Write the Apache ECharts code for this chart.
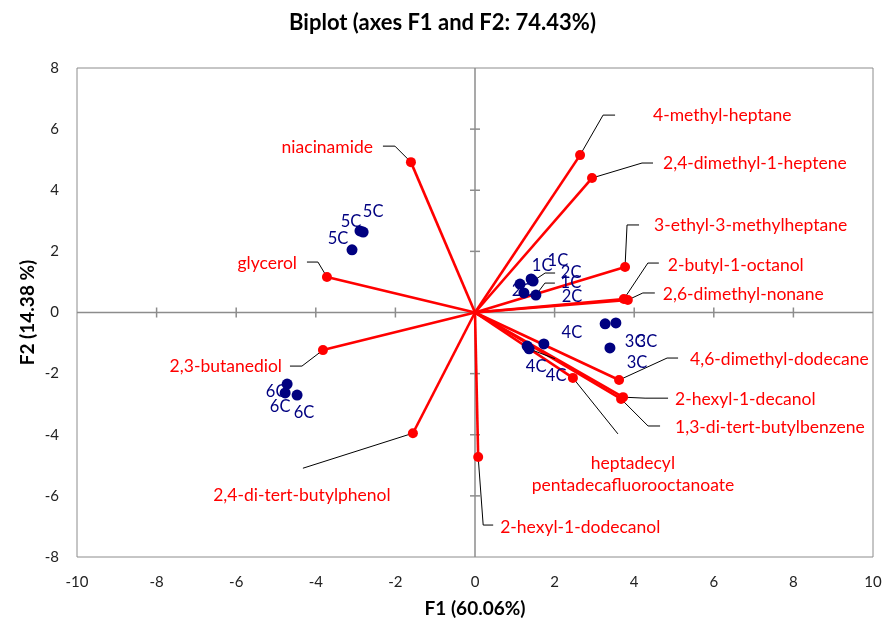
<!DOCTYPE html>
<html><head><meta charset="utf-8">
<script src="https://cdn.jsdelivr.net/npm/echarts@6/dist/echarts.min.js"></script>
<style>html,body{margin:0;padding:0;background:#fff}#c{width:885px;height:628px}</style>
</head><body><div id="c"></div>
<script>
// ---------- data ----------
const xTicks = [-10, -8, -6, -4, -2, 0, 2, 4, 6, 8, 10];
const yTicks = [-8, -6, -4, -2, 0, 2, 4, 6, 8];

const varNames = ['4-methyl-heptane', '2,4-dimethyl-1-heptene', '3-ethyl-3-methylheptane',
  '2-butyl-1-octanol', '2,6-dimethyl-nonane', '4,6-dimethyl-dodecane', '2-hexyl-1-decanol',
  '1,3-di-tert-butylbenzene', 'heptadecyl\npentadecafluorooctanoate', '2-hexyl-1-dodecanol',
  '2,4-di-tert-butylphenol', '2,3-butanediol', 'glycerol', 'niacinamide'];
const varF1 = [2.64, 2.94, 3.77, 3.74, 3.84, 3.62, 3.72, 3.67, 2.46, 0.08, -1.56, -3.82, -3.72, -1.61];
const varF2 = [5.15, 4.40, 1.49, 0.44, 0.41, -2.21, -2.77, -2.83, -2.14, -4.73, -3.95, -1.23, 1.16, 4.92];

const obsNames = ['1C', '1C', '2C', '1C', '2C', '2C',
  '3C', '3C', '3C', '4C', '4C', '4C', '5C', '5C', '5C', '6C', '6C', '6C'];
const obsF1 = [1.41, 1.43, 1.46, 1.53, 1.23, 1.13,
  3.27, 3.54, 3.39, 1.73, 1.31, 1.36, -2.81, -2.89, -3.09, -4.72, -4.77, -4.47];
const obsF2 = [1.10, 1.06, 1.03, 0.57, 0.64, 0.93,
  -0.37, -0.34, -1.16, -1.03, -1.10, -1.19, 2.63, 2.67, 2.05, -2.34, -2.63, -2.70];

// ---------- label placement (pixel offsets from the mark) ----------
const varLabelStyle = [
  { l: [[23, -40], [35, -40]], t: [73, -40], a: 'left' },
  { l: [[50, -15], [61, -15]], t: [71, -15], a: 'left' },
  { l: [[2, -42], [14, -42]], t: [29, -42], a: 'left' },
  { l: [[24, -36], [35, -36]], t: [44, -34], a: 'left' },
  { l: [[15, -7], [27, -7]], t: [35, -6], a: 'left' },
  { l: [[48, -22], [59, -22]], t: [71, -21], a: 'left' },
  { l: [[22, 1], [45, 1]], t: [52, 2], a: 'left' },
  { l: [[27, 27], [39, 27]], t: [54, 28], a: 'left' },
  { l: [[45, 56]], t: [60, 96], a: 'center' },
  { l: [[5, 68], [15, 68]], t: [22, 70], a: 'left' },
  { l: [[-110, 35]], t: [-111, 62], a: 'center' },
  { l: [[-21, 16], [-33, 16]], t: [-41, 16], a: 'right' },
  { l: [[-9, -15], [-20, -15]], t: [-30, -14], a: 'right' },
  { l: [[-16, -16], [-28, -16]], t: [-38, -15], a: 'right' }
];
const obsLabelStyle = [
  { t: [11, -13] }, { t: [26, -19] },
  { l: [[12, -8], [22, -8]], t: [38, -8] },
  { l: [[9, -12], [19, -12]], t: [35, -12] },
  { t: [-2, -2] }, { t: [52, 13] },
  { t: [30, 18] }, { t: [31, 19] }, { t: [27, 15] },
  { t: [28, -11] }, { t: [9, 21] }, { l: [[26, 10]], t: [27, 27] },
  { t: [10, -20] }, { t: [-9, -9] }, { t: [-14, -11] },
  { t: [-11, 8] }, { t: [-5, 14] }, { t: [7, 18] }
];

const FONT = 'Lato, "Open Sans", sans-serif';
const RED = '#ff0000';
const NAVY = '#000080';
const GRAY = '#8c8c8c';

const varData = varF1.map((v, i) => [v, varF2[i]]);
const obsData = obsF1.map((v, i) => [v, obsF2[i]]);

function labelRenderer(names, styles, color, fontSize) {
  return function (params, api) {
    const i = params.dataIndex;
    const p = api.coord([api.value(0), api.value(1)]);
    const s = styles[i];
    const children = [];
    if (s.l) {
      const pts = [p].concat(s.l.map(d => [p[0] + d[0], p[1] + d[1]]));
      children.push({ type: 'polyline', shape: { points: pts },
        style: { stroke: '#000', lineWidth: 1, fill: null } });
    }
    children.push({ type: 'text', x: p[0] + s.t[0], y: p[1] + s.t[1],
      style: { text: names[i], fill: color, fontSize: fontSize, fontFamily: FONT,
        align: s.a || 'center', verticalAlign: 'middle', lineHeight: 22 } });
    return { type: 'group', children: children };
  };
}

const chart = echarts.init(document.getElementById('c'), null, { renderer: 'canvas' });
chart.setOption({
  animation: false,
  backgroundColor: '#fff',
  title: {
    text: 'Biplot (axes F1 and F2: 74.43%)', left: 'center', top: 7,
    textStyle: { fontFamily: FONT, fontWeight: 'bold', fontSize: 22, color: '#000' }
  },
  grid: { left: 77, right: 12, top: 68, bottom: 71, show: true, borderColor: GRAY, borderWidth: 1 },
  xAxis: {
    type: 'value', min: -10, max: 10, interval: 2,
    axisLine: { show: false, onZero: false }, axisTick: { show: false }, splitLine: { show: false },
    axisLabel: { fontFamily: FONT, fontSize: 15, color: '#222', margin: 18 },
    name: 'F1 (60.06%)', nameLocation: 'middle', nameGap: 42, nameMoveOverlap: false,
    nameTextStyle: { fontFamily: FONT, fontWeight: 'bold', fontSize: 19, color: '#000' }
  },
  yAxis: {
    type: 'value', min: -8, max: 8, interval: 2,
    axisLine: { show: false, onZero: false }, axisTick: { show: false }, splitLine: { show: false },
    axisLabel: { fontFamily: FONT, fontSize: 15, color: '#222', margin: 18 },
    name: 'F2 (14.38 %)', nameLocation: 'middle', nameGap: 40, nameMoveOverlap: false,
    nameTextStyle: { fontFamily: FONT, fontWeight: 'bold', fontSize: 19, color: '#000' }
  },
  series: [
    { // zero axes with cross ticks
      type: 'custom', silent: true, z: 1, data: [[0, 0]],
      renderItem: function (params, api) {
        const ch = [];
        const x0 = api.coord([xTicks[0], 0]), x1 = api.coord([xTicks[xTicks.length - 1], 0]);
        const y0 = api.coord([0, yTicks[0]]), y1 = api.coord([0, yTicks[yTicks.length - 1]]);
        const ls = { stroke: GRAY, lineWidth: 1.5 };
        ch.push({ type: 'line', shape: { x1: x0[0], y1: x0[1], x2: x1[0], y2: x1[1] }, style: ls });
        ch.push({ type: 'line', shape: { x1: y0[0], y1: y0[1], x2: y1[0], y2: y1[1] }, style: ls });
        xTicks.forEach(t => { if (t === 0 || Math.abs(t) === 10) return; const p = api.coord([t, 0]);
          ch.push({ type: 'line', shape: { x1: p[0], y1: p[1] - 5, x2: p[0], y2: p[1] + 5 }, style: ls }); });
        yTicks.forEach(t => { if (t === 0 || Math.abs(t) === 8) return; const p = api.coord([0, t]);
          ch.push({ type: 'line', shape: { x1: p[0] - 5, y1: p[1], x2: p[0] + 5, y2: p[1] }, style: ls }); });
        return { type: 'group', children: ch };
      }
    },
    { // vectors
      type: 'custom', silent: true, z: 2, data: varData,
      renderItem: function (params, api) {
        const o = api.coord([0, 0]);
        const p = api.coord([api.value(0), api.value(1)]);
        return { type: 'line', shape: { x1: o[0], y1: o[1], x2: p[0], y2: p[1] },
          style: { stroke: RED, lineWidth: 2.6 } };
      }
    },
    { type: 'custom', silent: true, z: 3, data: varData,
      renderItem: labelRenderer(varNames, varLabelStyle, RED, 17.5) },
    { type: 'custom', silent: true, z: 3, data: obsData,
      renderItem: labelRenderer(obsNames, obsLabelStyle, NAVY, 16.5) },
    { type: 'scatter', z: 4, data: varData, symbol: 'circle', symbolSize: 10,
      itemStyle: { color: RED, opacity: 1 } },
    { type: 'scatter', z: 4, data: obsData, symbol: 'circle', symbolSize: 11,
      itemStyle: { color: NAVY, opacity: 1 } }
  ]
});
</script></body></html>
